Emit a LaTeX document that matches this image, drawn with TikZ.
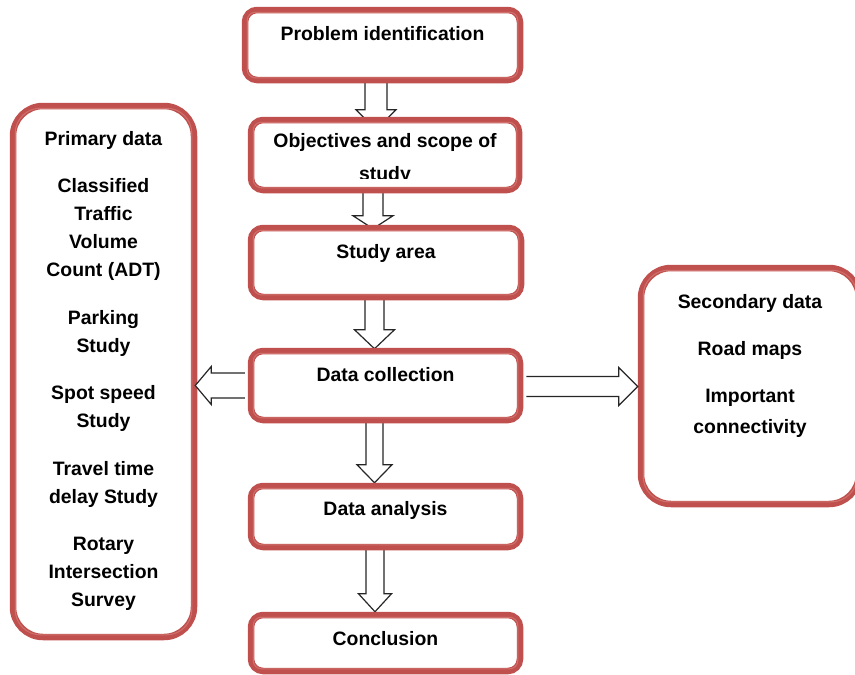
\documentclass[tikz,border=0pt]{standalone}
\usepackage{fontspec}
\setmainfont{Liberation Sans}
\usetikzlibrary{calc}
\definecolor{boxred}{HTML}{C0504D}
\definecolor{thinred}{HTML}{D0706D}
\pgfdeclarelayer{background}
\pgfsetlayers{background,main}
\newcommand\innerline[2]{\draw[thinred, line width=1pt, rounded corners=#2] ([shift={(5.5pt,5.5pt)}]#1.south west) rectangle ([shift={(-5.5pt,-5.5pt)}]#1.north east);}
% vertical block arrow: from, to, x centre, shaft half width, head half width, head length, tip offset
\newcommand\vblock[7]{%
  \draw[blockarrow] let \p1=(#1.south), \p2=(#2.north) in
  ({(#3-#4)*1pt},\y1+4pt) -- ({(#3-#4)*1pt},\y2-#7pt+#6pt) -- ({(#3-#5)*1pt},\y2-#7pt+#6pt) --
  ({#3*1pt},\y2-#7pt) -- ({(#3+#5)*1pt},\y2-#7pt+#6pt) -- ({(#3+#4)*1pt},\y2-#7pt+#6pt) --
  ({(#3+#4)*1pt},\y1+4pt) -- cycle;}
\begin{document}
\begin{tikzpicture}[x=1pt,y=-1pt,
  stepbox/.style={draw=boxred, line width=6.5pt, fill=white, rounded corners=#1, inner sep=0pt},
  stepbox/.default=12pt,
  lbl/.style={font=\bfseries\fontsize{19.4}{28}\selectfont, align=center, inner sep=0pt},
  blockarrow/.style={draw=black!85, line width=1.2pt, fill=white, line join=miter}]
\useasboundingbox (0,0) rectangle (855,675);

% boxes
\node[stepbox, minimum width=275pt, minimum height=70pt] (prob) at (382.5,45) {};
\node[stepbox, minimum width=268pt, minimum height=70pt] (obj) at (385,155) {};
\node[stepbox, minimum width=270pt, minimum height=69pt] (area) at (386,262.5) {};
\node[stepbox, minimum width=269pt, minimum height=69pt] (dc) at (385.5,385.5) {};
\node[stepbox, minimum width=269pt, minimum height=61pt] (ana) at (385.5,516.5) {};
\node[stepbox, minimum width=269pt, minimum height=56pt] (conc) at (385.5,643) {};
\node[stepbox=30pt, minimum width=181pt, minimum height=531pt] (prim) at (103.5,371.5) {};
\node[stepbox=30pt, minimum width=218pt, minimum height=236pt] (sec) at (750,386) {};

\innerline{prob}{8pt}
\innerline{obj}{8pt}
\innerline{area}{8pt}
\innerline{dc}{8pt}
\innerline{ana}{8pt}
\innerline{conc}{8pt}
\innerline{prim}{25pt}
\innerline{sec}{25pt}

% texts
\node[lbl, anchor=base] (probt) at ($(prob.north)+(0,34)$) {Problem identification};
\begin{scope}
  \clip ([yshift=15pt]obj.south west) rectangle (obj.north east);
  \node[lbl, anchor=north] (objt) at ($(obj.north)+(0,16.5)$) {Objectives and scope of\\[5pt]study};
\end{scope}
\node[lbl, anchor=base] (areat) at ($(area.north)+(0,34)$) {Study area};
\node[lbl, anchor=base] (dct) at ($(dc.north)+(0,34)$) {Data collection};
\node[lbl, anchor=base] (anat) at ($(ana.north)+(0,33)$) {Data analysis};
\node[lbl, anchor=base] (conct) at ($(conc.north)+(0,34)$) {Conclusion};
\node[lbl, anchor=north] (primt) at ($(prim.north)+(0,28)$)
  {Primary data\\[19.5pt]Classified\\Traffic\\Volume\\Count (ADT)\\[19.5pt]Parking\\Study\\[19.5pt]Spot speed\\Study\\[19.5pt]Travel time\\delay Study\\[19.5pt]Rotary\\Intersection\\Survey};
\node[lbl, anchor=north] (sect) at ($(sec.north)+(0,29.5)$)
  {Secondary data\\[19pt]Road maps\\[19pt]Important\\[2.5pt]connectivity};

% vertical arrows behind the boxes
\begin{pgfonlayer}{background}
\vblock{prob}{obj}{376}{11}{20}{20}{13}
\vblock{obj}{area}{373}{10}{20}{13}{4}
\vblock{area}{dc}{374.5}{9.5}{20}{19}{1}
\vblock{dc}{ana}{374.5}{8.5}{17.5}{18}{0}
\vblock{ana}{conc}{375}{9}{16.5}{18}{0}
\end{pgfonlayer}

% horizontal arrows
\fill[white] let \p1=(dc.west), \p2=(prim.east) in
  (\x1-3pt,\y1+12.5pt) -- (\x2+14pt,\y1+12.5pt) -- (\x2+14pt,\y1+19pt) -- (\x2-2pt,\y1) --
  (\x2+14pt,\y1-19pt) -- (\x2+14pt,\y1-12.5pt) -- (\x1-3pt,\y1-12.5pt) -- cycle;
\draw[blockarrow] let \p1=(dc.west), \p2=(prim.east) in
  (\x1-3pt,\y1+12.5pt) -- (\x2+14pt,\y1+12.5pt) -- (\x2+14pt,\y1+19pt) -- (\x2-2pt,\y1) --
  (\x2+14pt,\y1-19pt) -- (\x2+14pt,\y1-12.5pt) -- (\x1-3pt,\y1-12.5pt);
\fill[white] let \p1=(dc.east), \p2=(sec.west) in
  (\x1+3pt,\y1+9pt) -- (\x2-19pt,\y1+9pt) -- (\x2-19pt,\y1+18pt) -- (\x2,\y1-1pt) --
  (\x2-19pt,\y1-20pt) -- (\x2-19pt,\y1-11pt) -- (\x1+3pt,\y1-11pt) -- cycle;
\draw[blockarrow] let \p1=(dc.east), \p2=(sec.west) in
  (\x1+3pt,\y1+9pt) -- (\x2-19pt,\y1+9pt) -- (\x2-19pt,\y1+18pt) -- (\x2,\y1-1pt) --
  (\x2-19pt,\y1-20pt) -- (\x2-19pt,\y1-11pt) -- (\x1+3pt,\y1-11pt);
\end{tikzpicture}
\end{document}
